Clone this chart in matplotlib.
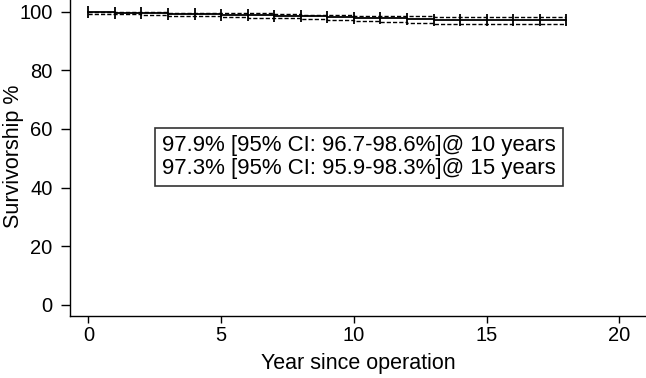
import matplotlib
matplotlib.use("Agg")
import matplotlib.pyplot as plt
import numpy as np

plt.rcParams['font.family'] = ['Liberation Sans', 'DejaVu Sans']

years = [0, 1, 2, 3, 4, 5, 6, 7, 8, 9, 10, 11, 12, 13, 14, 15, 16, 17, 18]
surv = [99.8, 99.6, 99.4, 99.2, 99.1, 98.9, 98.8, 98.6, 98.4, 98.2, 98.0, 97.7, 97.6, 97.3, 97.3, 97.3, 97.3, 97.3, 97.3]
upper = [100.0, 99.9, 99.8, 99.7, 99.6, 99.5, 99.4, 99.2, 99.0, 98.9, 98.7, 98.5, 98.4, 98.3, 98.3, 98.3, 98.3, 98.3, 98.3]
lower = [99.3, 99.1, 98.9, 98.6, 98.4, 98.1, 97.9, 97.7, 97.4, 97.1, 96.8, 96.5, 96.3, 95.9, 95.9, 95.9, 95.9, 95.9, 95.9]
censor_years = years
xticks = [0, 5, 10, 15, 20]
yticks = [0, 20, 40, 60, 80, 100]
annotation = "97.9% [95% CI: 96.7-98.6%]@ 10 years\n97.3% [95% CI: 95.9-98.3%]@ 15 years"

fig = plt.figure(figsize=(6.46, 3.78), dpi=100)
ax = fig.add_axes([0.108, 0.164, 0.892, 0.836])

ax.step(years, surv, where='post', color='black', lw=1.3)
ax.step(years, upper, where='post', color='black', lw=1.0, ls=(0, (3, 1.5)))
ax.step(years, lower, where='post', color='black', lw=1.0, ls=(0, (3, 1.5)))
ax.plot(censor_years, surv, ls='none', marker='|', ms=9, mew=1.3, color='black')

ax.set_xlim(-0.7, 21.0)
ax.set_ylim(-3.8, 104)
ax.set_xticks(xticks)
ax.set_yticks(yticks)
ax.tick_params(axis='y', direction='out', length=6.5, width=1, labelsize=14.5, color='black', pad=5.8)
ax.tick_params(axis='x', direction='out', length=5, width=1, labelsize=14.5, color='black', pad=2)
for s in ['top', 'right']:
    ax.spines[s].set_visible(False)
for s in ['left', 'bottom']:
    ax.spines[s].set_linewidth(1)

ax.set_xlabel('Year since operation', fontsize=15.5)
ax.set_ylabel('Survivorship %', fontsize=15.5)
ax.xaxis.set_label_coords(0.5, -0.118)
ax.yaxis.set_label_coords(-0.08, 0.505)

ax.text(10.2, 50.5, annotation, ha='center', va='center', fontsize=16,
        linespacing=1.12,
        bbox=dict(boxstyle='square,pad=0.33', facecolor='white', edgecolor='#333333', lw=1.2))

fig.savefig('out.png', dpi=100)
